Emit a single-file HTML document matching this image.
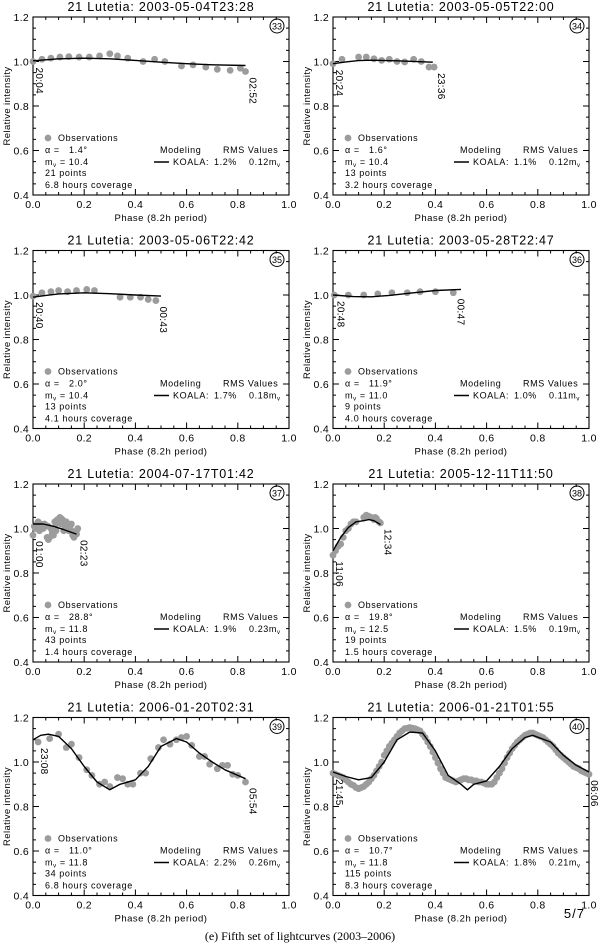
<!DOCTYPE html>
<html><head><meta charset="utf-8"><style>
html,body{margin:0;padding:0;background:#fff;}
svg{display:block;font-family:"Liberation Sans",sans-serif;}
text{white-space:pre;}
</style></head><body>
<svg id="fig" width="600" height="949" viewBox="0 0 600 949" xmlns="http://www.w3.org/2000/svg"></svg>
<script>
// ---- data ----
const titles = ["2003-05-04T23:28","2003-05-05T22:00","2003-05-06T22:42","2003-05-28T22:47","2004-07-17T01:42","2005-12-11T11:50","2006-01-20T02:31","2006-01-21T01:55"];
const ids = ["33","34","35","36","37","38","39","40"];
const alphas = ["1.4","1.6","2.0","11.9","28.8","19.8","11.0","10.7"];
const mags = ["10.4","10.4","10.4","11.0","11.8","12.5","11.8","11.8"];
const npts = ["21","13","13","9","43","19","34","115"];
const coverage = ["6.8","3.2","4.1","4.0","1.4","1.5","6.8","8.3"];
const rmsPct = ["1.2%","1.1%","1.7%","1.0%","1.9%","1.5%","2.2%","1.8%"];
const rmsMag = ["0.12","0.12","0.18","0.11","0.23","0.19","0.26","0.21"];
const startTimes = ["20:04","20:24","20:40","20:48","01:00","11:06","23:08","21:45"];
const endTimes = ["02:52","23:36","00:43","00:47","02:23","12:34","05:54","06:06"];
const xTicks = [0,0.2,0.4,0.6,0.8,1.0];
const yTicks = [0.4,0.6,0.8,1.0,1.2];

const obs33 = [[0,1.0],[0.035,1.01],[0.07,1.015],[0.105,1.02],[0.14,1.022],[0.18,1.02],[0.22,1.02],[0.26,1.025],[0.3,1.035],[0.33,1.025],[0.37,1.015],[0.43,1.0],[0.475,1.01],[0.515,1.0],[0.58,0.98],[0.625,0.985],[0.675,0.975],[0.72,0.965],[0.77,0.96],[0.81,0.97],[0.83,0.955]];
const mod33 = [[0,1.003],[0.1,1.012],[0.2,1.015],[0.3,1.012],[0.4,1.005],[0.5,0.997],[0.6,0.99],[0.7,0.985],[0.83,0.982]];
const obs34 = [[0,0.99],[0.035,1.01],[0.1,1.02],[0.13,1.02],[0.16,1.012],[0.19,1.005],[0.22,1.01],[0.25,1.0],[0.28,0.998],[0.315,1.01],[0.345,1.0],[0.375,0.975],[0.395,0.975]];
const mod34 = [[0,0.99],[0.05,0.998],[0.1,1.004],[0.15,1.006],[0.25,1.003],[0.39,0.997]];
const obs35 = [[0,0.995],[0.035,1.01],[0.07,1.015],[0.1,1.02],[0.135,1.015],[0.17,1.02],[0.21,1.025],[0.24,1.02],[0.34,0.99],[0.38,0.99],[0.42,0.99],[0.45,0.98],[0.48,0.975]];
const mod35 = [[0,0.99],[0.05,0.998],[0.1,1.005],[0.2,1.01],[0.3,1.006],[0.4,1.0],[0.5,0.995]];
const obs36 = [[0.005,1.0],[0.06,1.0],[0.12,1.0],[0.175,1.005],[0.23,1.01],[0.29,1.01],[0.34,1.015],[0.4,1.015],[0.47,1.01]];
const mod36 = [[0,1.0],[0.08,0.993],[0.15,0.992],[0.22,0.998],[0.3,1.008],[0.4,1.02],[0.5,1.025]];
const obs37 = [[0,0.97],[0.005,1.01],[0.01,1.0],[0.015,1.02],[0.02,1.0],[0.025,0.99],[0.03,1.02],[0.035,1.01],[0.04,1.0],[0.045,1.02],[0.05,1.015],[0.055,0.96],[0.06,0.95],[0.065,0.96],[0.07,1.0],[0.075,0.98],[0.08,0.97],[0.085,1.03],[0.09,1.02],[0.095,1.04],[0.1,1.03],[0.105,1.05],[0.11,1.02],[0.115,1.04],[0.12,0.99],[0.125,1.01],[0.13,1.0],[0.135,1.02],[0.14,0.99],[0.145,1.01],[0.15,1.02],[0.155,0.97],[0.16,0.96],[0.165,0.98],[0.17,0.99],[0.175,1.0],[0.02,1.03],[0.06,1.01],[0.09,0.99],[0.11,1.045],[0.13,1.03],[0.15,0.99],[0.17,0.975]];
const mod37 = [[0,1.02],[0.04,1.02],[0.08,1.01],[0.12,0.995],[0.17,0.975]];
const obs38 = [[0,0.88],[0.01,0.9],[0.02,0.92],[0.03,0.93],[0.04,0.96],[0.05,0.99],[0.06,1.0],[0.07,1.02],[0.08,1.03],[0.09,1.03],[0.12,1.05],[0.13,1.06],[0.14,1.055],[0.15,1.05],[0.16,1.04],[0.165,1.05],[0.17,1.045],[0.18,1.03],[0.185,1.025]];
const mod38 = [[0,0.9],[0.03,0.96],[0.06,1.005],[0.09,1.03],[0.12,1.035],[0.14,1.04],[0.16,1.035],[0.185,1.018]];
const obs39 = [[0.02,1.09],[0.065,1.105],[0.1,1.125],[0.13,1.065],[0.15,1.08],[0.18,1.02],[0.21,0.965],[0.23,0.94],[0.26,0.9],[0.28,0.91],[0.3,0.89],[0.33,0.93],[0.35,0.925],[0.37,0.9],[0.39,0.9],[0.42,0.95],[0.44,0.95],[0.46,1.015],[0.49,1.065],[0.51,1.1],[0.535,1.08],[0.56,1.1],[0.58,1.11],[0.6,1.115],[0.62,1.075],[0.65,1.025],[0.67,1.025],[0.69,0.99],[0.72,0.97],[0.74,0.985],[0.76,0.985],[0.78,0.945],[0.8,0.94],[0.83,0.91]];
const mod39 = [[0,1.1],[0.03,1.12],[0.06,1.125],[0.1,1.115],[0.15,1.06],[0.2,0.98],[0.25,0.91],[0.3,0.875],[0.34,0.9],[0.4,0.92],[0.45,0.98],[0.5,1.07],[0.56,1.105],[0.6,1.09],[0.65,1.04],[0.7,1.0],[0.75,0.965],[0.8,0.94],[0.83,0.925]];
const obs40 = [[0,0.95],[0.01,0.945],[0.02,0.94],[0.03,0.935],[0.04,0.93],[0.05,0.92],[0.06,0.91],[0.07,0.9],[0.08,0.895],[0.09,0.885],[0.1,0.88],[0.11,0.885],[0.12,0.89],[0.13,0.9],[0.14,0.91],[0.15,0.925],[0.16,0.94],[0.17,0.96],[0.18,0.98],[0.19,1.0],[0.2,1.03],[0.21,1.05],[0.22,1.07],[0.23,1.085],[0.24,1.1],[0.25,1.115],[0.26,1.13],[0.27,1.14],[0.28,1.15],[0.29,1.152],[0.3,1.155],[0.31,1.152],[0.32,1.15],[0.33,1.145],[0.34,1.14],[0.35,1.125],[0.36,1.11],[0.37,1.09],[0.38,1.07],[0.39,1.045],[0.4,1.02],[0.41,0.995],[0.42,0.97],[0.43,0.95],[0.44,0.93],[0.45,0.925],[0.46,0.92],[0.47,0.915],[0.48,0.91],[0.49,0.915],[0.5,0.92],[0.51,0.925],[0.52,0.925],[0.53,0.92],[0.54,0.92],[0.55,0.915],[0.56,0.915],[0.57,0.91],[0.58,0.91],[0.59,0.905],[0.6,0.9],[0.61,0.9],[0.62,0.9],[0.63,0.91],[0.64,0.93],[0.65,0.95],[0.66,0.97],[0.67,0.995],[0.68,1.02],[0.69,1.04],[0.7,1.06],[0.71,1.075],[0.72,1.09],[0.73,1.1],[0.74,1.11],[0.75,1.12],[0.76,1.125],[0.77,1.13],[0.78,1.13],[0.79,1.125],[0.8,1.12],[0.81,1.115],[0.82,1.11],[0.83,1.1],[0.84,1.09],[0.85,1.08],[0.86,1.07],[0.87,1.055],[0.88,1.04],[0.89,1.03],[0.9,1.02],[0.91,1.01],[0.92,1.0],[0.93,0.99],[0.94,0.98],[0.95,0.975],[0.96,0.97],[0.97,0.96],[0.98,0.955],[0.99,0.95],[1.0,0.945]];
const mod40 = [[0,0.955],[0.05,0.935],[0.1,0.92],[0.15,0.93],[0.2,1.0],[0.25,1.1],[0.3,1.135],[0.35,1.13],[0.4,1.05],[0.45,0.94],[0.5,0.9],[0.525,0.875],[0.55,0.9],[0.6,0.915],[0.65,0.98],[0.7,1.06],[0.75,1.11],[0.78,1.12],[0.85,1.09],[0.9,1.03],[0.95,0.985],[1.0,0.955]];
const obsSets = [obs33,obs34,obs35,obs36,obs37,obs38,obs39,obs40];
const modSets = [mod33,mod34,mod35,mod36,mod37,mod38,mod39,mod40];

// ---- drawing ----
const NS = "http://www.w3.org/2000/svg";
const svg = document.getElementById("fig");
function mk(tag, attrs, parent, txt){
  const e = document.createElementNS(NS, tag);
  for (const k in attrs) e.setAttribute(k, attrs[k]);
  if (txt !== undefined) e.textContent = txt;
  (parent || svg).appendChild(e);
  return e;
}
const PW = 256, PH = 178;
for (let i = 0; i < 8; i++) {
  const ox = (i % 2) * 300, oy = Math.floor(i / 2) * 233.5;
  const X0 = ox + 33, Y0 = oy + 17;
  const xs = p => X0 + p * PW;
  const ys = v => Y0 + (1.2 - v) / 0.8 * PH;
  const g = mk("g", {});
  
  
  const t = mk("text", {x: ox + 161, y: oy + 11, "text-anchor": "middle", "font-size": 12.5, "letter-spacing": 0.8}, g, "21 Lutetia: " + titles[i]);
  
  
  const fr = mk("rect", {x: X0, y: Y0, width: PW, height: PH, fill: "none", stroke: "#000", "stroke-width": 1.1}, g);
  
  
  for (let k = 0; k <= 20; k++) {
    const p = k / 20, L = (k % 4 === 0) ? 6 : 3;
    mk("line", {x1: xs(p), x2: xs(p), y1: Y0 + PH, y2: Y0 + PH - L, stroke: "#000"}, g);
    mk("line", {x1: xs(p), x2: xs(p), y1: Y0, y2: Y0 + L, stroke: "#000"}, g);
  }
  for (let k = 0; k <= 16; k++) {
    const v = 0.4 + k * 0.05, L = (k % 4 === 0) ? 6 : 3;
    mk("line", {x1: X0, x2: X0 + L, y1: ys(v), y2: ys(v), stroke: "#000"}, g);
    mk("line", {x1: X0 + PW, x2: X0 + PW - L, y1: ys(v), y2: ys(v), stroke: "#000"}, g);
  }
  xTicks.forEach(v => {
    const tl = mk("text", {x: xs(v), y: Y0 + PH + 13, "text-anchor": "middle", "font-size": 10.5, "letter-spacing": 0.3}, g, v.toFixed(1));
    
    
  });
  yTicks.forEach(v => {
    const tl = mk("text", {x: X0 - 4, y: ys(v) + 4, "text-anchor": "end", "font-size": 10.5, "letter-spacing": 0.3}, g, v.toFixed(1));
    
    
  });
  const xt = mk("text", {x: ox + 161, y: Y0 + PH + 26, "text-anchor": "middle", "font-size": 9.5, "letter-spacing": 0.5}, g, "Phase (8.2h period)");
  
  
  const yt = mk("text", {x: 0, y: 0, "text-anchor": "middle", "font-size": 9.5, "letter-spacing": 0.4, transform: `translate(${ox + 10},${Y0 + PH / 2}) rotate(-90)`}, g, "Relative intensity");
  
  
  mk("circle", {cx: X0 + 244, cy: Y0 + 9, r: 7, fill: "none", stroke: "#000"}, g);
  const idt = mk("text", {x: X0 + 244, y: Y0 + 12.5, "text-anchor": "middle", "font-size": 9}, g, ids[i]);
  
  
  const obs = obsSets[i];
  obs.forEach(d => {
    const c = mk("circle", {cx: xs(d[0]), cy: ys(d[1]), r: 3.4, fill: "#9c9c9c"}, g);
    
    
  });
  const md = modSets[i];
  const ln = mk("path", {d: md.map((d, j) => (j ? "L" : "M") + xs(d[0]).toFixed(1) + "," + ys(d[1]).toFixed(1)).join(""), fill: "none", stroke: "#000", "stroke-width": 1.4, "stroke-linejoin": "round"}, g);
  
  
  const f = obs[0], l = obs[obs.length - 1];
  const s1 = mk("text", {x: 0, y: 0, "font-size": 10, "letter-spacing": 0.3, transform: `translate(${xs(f[0]) + 3},${ys(f[1]) + 6}) rotate(90)`}, g, startTimes[i]);
  
  
  const ex = Math.min(xs(l[0]) + 4, X0 + PW + 2);
  const s2 = mk("text", {x: 0, y: 0, "font-size": 10, "letter-spacing": 0.3, transform: `translate(${ex},${ys(l[1]) + 6}) rotate(90)`}, g, endTimes[i]);
  
  
  const lg = mk("g", {"font-size": 9, "letter-spacing": 0.6}, g);
  
  
  mk("circle", {cx: ox + 48, cy: oy + 138, r: 3.4, fill: "#9c9c9c"}, lg);
  mk("text", {x: ox + 58, y: oy + 141}, lg, "Observations");
  mk("text", {x: ox + 45, y: oy + 153}, lg, "\u03b1 =   " + alphas[i] + "\u00b0");
  const mv = mk("text", {x: ox + 45, y: oy + 165}, lg);
  mv.innerHTML = 'm<tspan font-size="6" dy="2">v</tspan><tspan dy="-2"> = ' + mags[i] + '</tspan>';
  mk("text", {x: ox + 45, y: oy + 176}, lg, npts[i] + " points");
  mk("text", {x: ox + 45, y: oy + 188}, lg, coverage[i] + " hours coverage");
  mk("text", {x: ox + 160, y: oy + 153}, lg, "Modeling");
  mk("text", {x: ox + 223, y: oy + 153}, lg, "RMS Values");
  mk("line", {x1: ox + 154, x2: ox + 169, y1: oy + 162, y2: oy + 162, stroke: "#000", "stroke-width": 1.5}, lg);
  mk("text", {x: ox + 173, y: oy + 165}, lg, "KOALA:");
  mk("text", {x: ox + 214, y: oy + 165}, lg, rmsPct[i]);
  const rm = mk("text", {x: ox + 249, y: oy + 165}, lg);
  rm.innerHTML = rmsMag[i] + 'm<tspan font-size="6" dy="2">v</tspan>';
}
const pg = mk("text", {x: 585, y: 918, "text-anchor": "end", "font-size": 13, "letter-spacing": 1}, svg, "5/7");


const cap = mk("text", {x: 300, y: 940, "text-anchor": "middle", "font-size": 12, "font-family": "Liberation Serif, serif"}, svg, "(e) Fifth set of lightcurves (2003\u20132006)");


</script>
</body></html>
